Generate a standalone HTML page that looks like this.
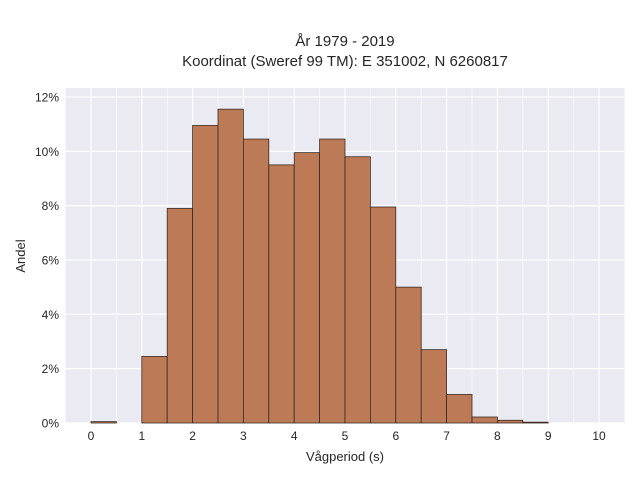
<!DOCTYPE html>
<html><head><meta charset="utf-8"><style>
body{margin:0;background:#fff;font-family:"Liberation Sans",sans-serif;}
svg text{font-family:"Liberation Sans",sans-serif;fill:#262626;}
</style></head><body>
<svg width="640" height="480">
<text x="345" y="46" text-anchor="middle" font-size="15">År 1979 - 2019</text>
<text x="345" y="66" text-anchor="middle" font-size="15">Koordinat (Sweref 99 TM): E 351002, N 6260817</text>
<rect x="65" y="88" width="560" height="335" fill="#eaeaf2"/>
<g id="grid"></g>
<g id="bars"></g>
<g id="ticks"></g>
<text x="345" y="461" text-anchor="middle" font-size="13">Vågperiod (s)</text>
<text x="0" y="0" transform="translate(25,256) rotate(-90)" text-anchor="middle" font-size="13">Andel</text>
</svg>
<script>
const binStarts=[0,0.5,1,1.5,2,2.5,3,3.5,4,4.5,5,5.5,6,6.5,7,7.5,8,8.5];
const shares=[0.05,0,2.45,7.9,10.95,11.55,10.45,9.5,9.95,10.45,9.8,7.95,5.0,2.7,1.05,0.22,0.1,0.03];
const xTicks=[0,1,2,3,4,5,6,7,8,9,10];
const yTicks=[0,2,4,6,8,10,12];
const binWidth=0.5;
const NS="http://www.w3.org/2000/svg";
const xs=v=>91+v*50.8, ys=v=>423-v*27.17;
const grid=document.getElementById('grid'),bars=document.getElementById('bars'),ticks=document.getElementById('ticks');
function mk(p,tag,a){const e=document.createElementNS(NS,tag);for(const k in a)e.setAttribute(k,a[k]);p.appendChild(e);return e;}
for(let v=-0.5;v<=10.5;v+=0.5){const x=xs(v);if(x<65||x>625)continue;
 const l=mk(grid,'line',{x1:x,x2:x,y1:88,y2:423,stroke:'#fff','stroke-width':Number.isInteger(v)?1.2:0.6});
 
 }
yTicks.forEach(v=>{const l=mk(grid,'line',{x1:65,x2:625,y1:ys(v),y2:ys(v),stroke:'#fff','stroke-width':1.2});
 
 
 const t=mk(ticks,'text',{x:59,y:ys(v)+4.5,'text-anchor':'end','font-size':12});t.textContent=v+'%';
 
 });
xTicks.forEach(v=>{const t=mk(ticks,'text',{x:xs(v),y:440,'text-anchor':'middle','font-size':12});t.textContent=v;
 
 });
binStarts.forEach((b,i)=>{if(shares[i]<=0)return;const y=ys(shares[i]);
 const r=mk(bars,'rect',{x:xs(b),y:y,width:xs(b+binWidth)-xs(b),height:423-y,fill:'#bc7a56',stroke:'#3a2a22','stroke-width':0.8});
 
 });
</script>
</body></html>
